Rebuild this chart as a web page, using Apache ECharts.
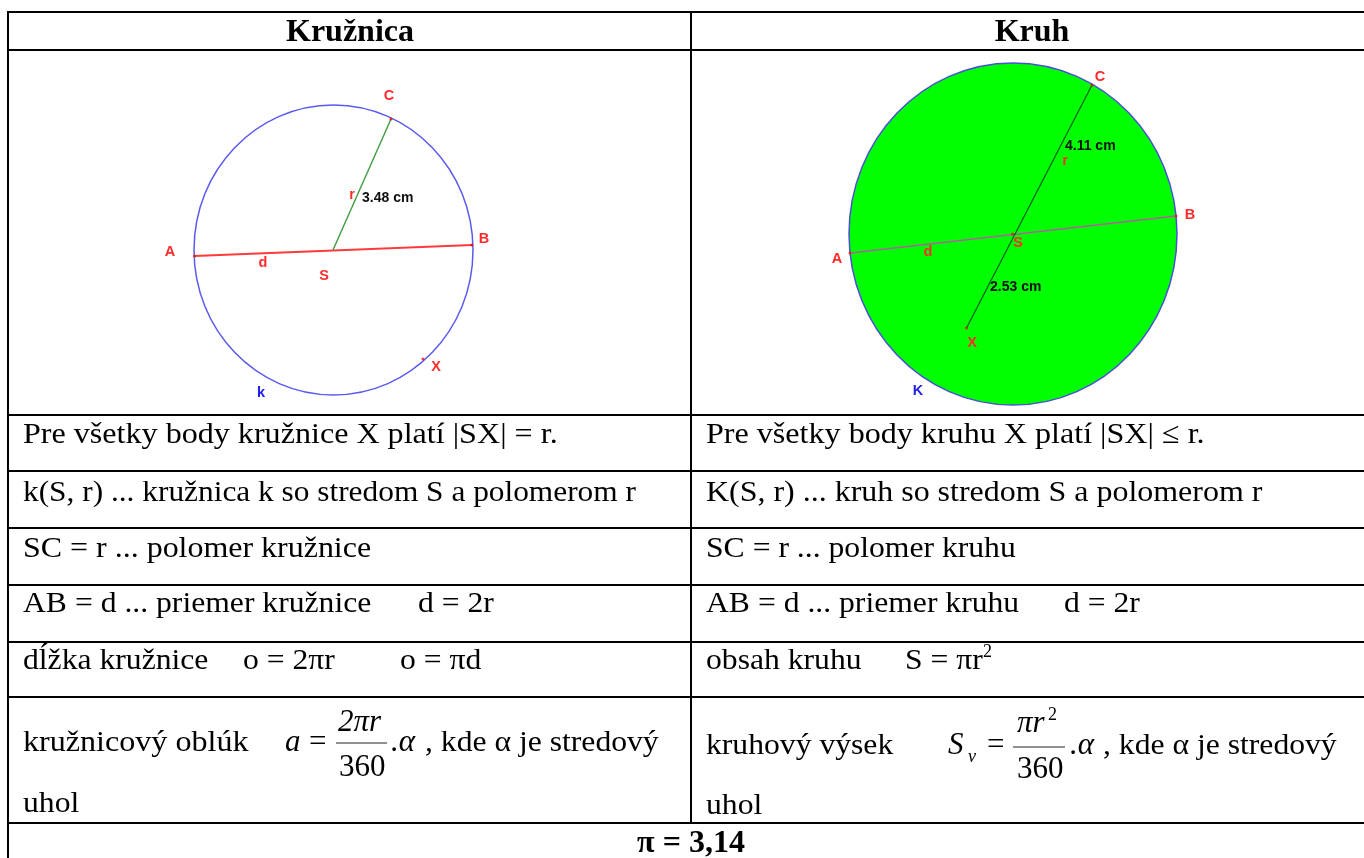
<!DOCTYPE html>
<html>
<head>
<meta charset="utf-8">
<title>Kružnica a kruh</title>
<script src="https://cdn.jsdelivr.net/npm/echarts@6/dist/echarts.min.js"></script>
<style>
  html, body { margin: 0; padding: 0; background: #fff; }
  #chart { width: 1364px; height: 858px; }
</style>
</head>
<body>
<div id="chart"></div>
<script>
// table rules: x1, y1, x2, y2 (axis units = page pixels)
const tableRules = [
  [7, 12, 1364, 12], [8, 50, 1364, 50], [8, 415, 1364, 415], [8, 471, 1364, 471],
  [8, 528, 1364, 528], [8, 585, 1364, 585], [8, 642, 1364, 642], [8, 697, 1364, 697], [8, 823, 1364, 823],
  [8, 12, 8, 858], [691, 12, 691, 823],
];

// diagram shapes: cx, cy, rx, ry
const circleK = [[333.5, 250, 139.5, 145]];
const circleBigK = [[1013, 234, 164, 171]];

// diagram segments
const diameterLeft = [[194.5, 256, 472, 245]];
const radiusLeft = [[333, 250, 391, 119]];
const diameterRight = [[850, 253, 1176, 216]];
const radiusRight = [[966.5, 328, 1092, 85]];

// table text: x, baseline y, text, optional width stretch
const headers = [[350, 42, "Kružnica"], [1032, 42, "Kruh"], [691, 853, "π = 3,14"]];
const bodyText = [
  [23, 444, "Pre všetky body kružnice X platí |SX| = r.", 1.07],
  [23, 502, "k(S, r) ... kružnica k so stredom S a polomerom r", 1.045],
  [23, 558, "SC = r ... polomer kružnice", 1.065],
  [23, 613, "AB = d ... priemer kružnice"],
  [418, 613, "d = 2r"],
  [23, 670, "dĺžka kružnice"],
  [243, 670, "o = 2πr"],
  [400, 670, "o = πd"],
  [23, 752, "kružnicový oblúk", 1.07],
  [425, 752, ", kde α je stredový"],
  [23, 813, "uhol"],
  [706, 444, "Pre všetky body kruhu X platí |SX| ≤ r.", 1.07],
  [706, 502, "K(S, r) ... kruh so stredom S a polomerom r", 1.065],
  [706, 558, "SC = r ... polomer kruhu"],
  [706, 613, "AB = d ... priemer kruhu"],
  [1064, 613, "d = 2r"],
  [706, 670, "obsah kruhu"],
  [905, 670, "S = πr"],
  [706, 755, "kruhový výsek"],
  [1103, 755, ", kde α je stredový"],
  [706, 815, "uhol"],
];
const formulaItalic = [
  [285, 752, "a"], [338, 732, "2πr"], [391, 752, ".α"],
  [948, 755, "S"], [1017, 733, "πr"], [1070, 755, ".α"],
];
const formulaUpright = [
  [309, 752, "="], [339, 777, "360"], [987, 755, "="], [1017, 779, "360"],
];
const smallText = [[983, 658, "2"], [1048, 721, "2"]];
const subscriptText = [[968, 763, "v"]];
const fractionBars = [[336, 743, 387, 743], [1013, 747, 1065, 747]];

// diagram labels: x, y, text
const redLabels = [
  [170, 252, "A"], [484, 239, "B"], [389, 96, "C"], [324, 276, "S"], [263, 263, "d"], [352, 195, "r"], [436, 367, "X"],
  [837, 259, "A"], [1190, 215, "B"], [1100, 77, "C"], [1018, 243, "S"], [928, 252, "d"], [1065, 161, "r"], [972, 343, "X"],
];
const blueLabels = [[261, 393, "k"], [918, 391, "K"]];
const blackLabels = [[362, 198, "3.48 cm"], [1065, 146, "4.11 cm"], [990, 287, "2.53 cm"]];

// point markers
const redPoints = [[194.5, 256], [472, 245], [391, 119], [423, 359], [850, 253], [1176, 216], [1092, 85], [966.5, 328], [1012.5, 234]];

const SERIF = '"Liberation Serif", "Times New Roman", serif';
const SANS = '"Liberation Sans", Arial, sans-serif';

function segments(data, color, width) {
  return {
    type: "custom", data, silent: true, clip: false, animation: false,
    encode: { x: [0, 2], y: [1, 3] },
    renderItem(params, api) {
      const a = api.coord([api.value(0), api.value(1)]);
      const b = api.coord([api.value(2), api.value(3)]);
      return { type: "line", shape: { x1: a[0], y1: a[1], x2: b[0], y2: b[1] }, style: { stroke: color, lineWidth: width } };
    },
  };
}

function ellipse(data, fill, stroke) {
  return {
    type: "custom", data, silent: true, clip: false, animation: false,
    encode: { x: 0, y: 1 },
    renderItem(params, api) {
      const c = api.coord([api.value(0), api.value(1)]);
      const s = api.size([api.value(2), api.value(3)]);
      return { type: "ellipse", shape: { cx: c[0], cy: c[1], rx: s[0], ry: s[1] }, style: { fill, stroke, lineWidth: 1.5 } };
    },
  };
}

// text is anchored "top": baseline sits 0.8em below the anchor, the middle 0.5em below
function texts(data, weight, size, family, color, align, sx, centered) {
  return {
    type: "custom", data, silent: true, clip: false, animation: false,
    dimensions: ["x", "y", { name: "t", type: "ordinal" }],
    encode: { x: 0, y: 1 },
    renderItem(params, api) {
      const c = api.coord([api.value(0), api.value(1)]);
      const row = data[params.dataIndex];
      return {
        type: "text", x: c[0], y: c[1] - size * (centered ? 0.5 : 0.8), scaleX: row[3] || sx || 1,
        style: {
          x: 0, y: 0, text: row[2], font: `${weight} ${size}px ${family}`,
          fill: color, textAlign: align, textBaseline: "top",
        },
      };
    },
  };
}

const chart = echarts.init(document.getElementById("chart"), null, { renderer: "canvas" });
chart.setOption({
  animation: false,
  backgroundColor: "#ffffff",
  grid: { left: 0, right: 0, top: 0, bottom: 0 },
  xAxis: { type: "value", min: 0, max: 1364, show: false },
  yAxis: { type: "value", min: 0, max: 858, inverse: true, show: false },
  series: [
    segments(tableRules, "#000000", 2),
    ellipse(circleK, "none", "#5a5af0"),
    ellipse(circleBigK, "#00ff00", "#4a50d8"),
    segments(diameterLeft, "#ff3a3a", 2),
    segments(radiusLeft, "#3f9a3f", 1.4),
    segments(diameterRight, "#b060a0", 1.5),
    segments(radiusRight, "#0a5a20", 1.2),
    segments(fractionBars, "#222222", 1),
    {
      type: "scatter", data: redPoints, symbolSize: 3, silent: true, animation: false,
      itemStyle: { color: "#e81010" },
    },
    texts(headers, "bold", 32, SERIF, "#000", "center"),
    texts(bodyText, "normal", 30, SERIF, "#000", "left", 1.055),
    texts(formulaItalic, "italic", 31, SERIF, "#000", "left"),
    texts(formulaUpright, "normal", 31, SERIF, "#000", "left"),
    texts(smallText, "normal", 18, SERIF, "#000", "left"),
    texts(subscriptText, "italic", 18, SERIF, "#000", "left"),
    texts(redLabels, "bold", 14.5, SANS, "#ff2a2a", "center", 1, true),
    texts(blueLabels, "bold", 14.5, SANS, "#2020e8", "center", 1, true),
    texts(blackLabels, "bold", 14, SANS, "#101010", "left", 1, true),
  ],
});
window.addEventListener("resize", () => chart.resize());
</script>
</body>
</html>
